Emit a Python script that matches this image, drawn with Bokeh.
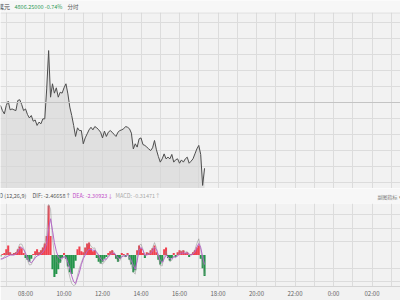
from bokeh.plotting import figure
from bokeh.layouts import column
from bokeh.models import Range1d, FixedTicker, Span
from bokeh.core.properties import value
from bokeh.embed import file_html
from bokeh.resources import INLINE

# ---------------- data ----------------
times = [
    "06:42", "06:48", "06:54", "07:00", "07:06", "07:12", "07:18", "07:24", "07:30", "07:36", "07:42", "07:48", "07:54",
    "08:00", "08:06", "08:12", "08:18", "08:24", "08:30", "08:36", "08:42", "08:48", "08:54",
    "09:00", "09:06", "09:12", "09:18", "09:24", "09:30", "09:36", "09:42", "09:48", "09:54",
    "10:00", "10:06", "10:12", "10:18", "10:24", "10:30", "10:36", "10:42", "10:48", "10:54",
    "11:00", "11:06", "11:12", "11:18", "11:24", "11:30", "11:36", "11:42", "11:48", "11:54",
    "12:00", "12:06", "12:12", "12:18", "12:24", "12:30", "12:36", "12:42", "12:48", "12:54",
    "13:00", "13:06", "13:12", "13:18", "13:24", "13:30", "13:36", "13:42", "13:48", "13:54",
    "14:00", "14:06", "14:12", "14:18", "14:24", "14:30", "14:36", "14:42", "14:48", "14:54",
    "15:00", "15:06", "15:12", "15:18", "15:24", "15:30", "15:36", "15:42", "15:48", "15:54",
    "16:00", "16:06", "16:12", "16:18", "16:24", "16:30", "16:36", "16:42", "16:48", "16:54",
    "17:00", "17:06", "17:12", "17:18",
]
price = [
    4840.5, 4837.7, 4835.9, 4840.5, 4842.8, 4838.1, 4838.6, 4838.1, 4837.7, 4843.2, 4843.6, 4841.0, 4837.7,
    4838.6, 4835.6, 4833.7, 4835.0, 4831.9, 4832.6, 4829.6, 4831.4, 4830.5, 4833.2,
    4833.2, 4849.5, 4870.4, 4845.0, 4852.3, 4847.2, 4850.1, 4845.0, 4847.7, 4847.2,
    4850.1, 4852.3, 4846.8, 4839.6, 4835.0, 4829.6, 4823.6, 4828.3, 4826.8, 4826.8,
    4819.6, 4822.8, 4825.0, 4827.2, 4828.6, 4827.2, 4829.0, 4828.3, 4827.2, 4825.9,
    4822.8, 4826.5, 4823.6, 4825.9, 4826.8, 4825.9, 4824.7, 4823.6, 4825.9, 4826.8,
    4827.2, 4827.8, 4829.0, 4828.6, 4827.8, 4825.4, 4816.8, 4819.6, 4817.8, 4822.3,
    4822.8, 4819.2, 4818.7, 4817.8, 4816.8, 4815.9, 4817.4, 4821.4, 4816.3, 4812.7,
    4809.6, 4811.4, 4814.1, 4811.4, 4812.3, 4811.4, 4813.8, 4809.6, 4810.9, 4811.4,
    4809.0, 4810.8, 4809.6, 4811.4, 4812.3, 4809.0, 4810.1, 4811.4, 4814.1, 4816.8,
    4818.7, 4813.8, 4796.9, 4806.25,
]
macd_hist = [
    -0.15, 0.1, 0.2, 0.6, 1.0, 0.3, 0.1, 0.2, 0.3, 0.6, 0.9, 0.7, 0.2,
    -0.3, -0.5, -0.7, -0.4, 0.1, 0.4, 0.6, 0.3, 0.5, 0.8,
    1.2, 2.0, 5.2, 2.0, -1.5, -2.3, -2.0, -1.5, -0.8, -0.3,
    0.2, -0.4, -1.2, -1.8, -2.0, -1.4, -0.6, 0.6, 0.9, 0.4,
    0.3, 0.8, 1.2, 1.3, 0.7, 0.4, 0.5, -0.3, -0.7, -0.9,
    -0.7, -0.4, -0.2, 0.2, 0.4, 0.5, 0.2, -0.4, -0.7, -0.4,
    0.2, 0.1, -0.2, 0.2, -0.5, -1.0, -1.8, -1.6, 0.5, 1.0,
    0.7, 0.2, -0.3, 0.3, 0.2, 0.5, 0.7, 1.0, 0.3, -0.5,
    -1.0, -0.7, 0.6, 0.8, -0.3, -0.6, -0.3, 0.2, -0.2, 0.3,
    0.5, 0.4, 0.5, 0.2, 0.3, -0.2, 0.1, 0.3, 0.5, 0.8,
    1.0, -0.4, -1.4, -2.2,
]
dea = [
    -0.4, -0.4, -0.3, -0.2, -0.1, 0.0, 0.0, 0.0, 0.1, 0.3, 0.7, 0.8, 0.6,
    0.2, -0.3, -0.7, -0.8, -0.6, -0.3, -0.1, 0.0, 0.1, 0.3,
    0.6, 1.2, 2.8, 3.8, 2.6, 1.3, 0.4, -0.2, -0.4, -0.3,
    -0.2, -0.2, -0.8, -1.4, -2.2, -2.8, -3.0, -2.4, -1.8, -1.0,
    -0.4, 0.0, 0.4, 0.6, 0.6, 0.5, 0.5, 0.3, 0.0, -0.4,
    -0.6, -0.5, -0.4, -0.2, 0.0, 0.2, 0.2, 0.0, -0.3, -0.4,
    -0.2, -0.1, -0.1, 0.0, -0.2, -0.6, -1.1, -1.5, -0.6, 0.5,
    0.8, 0.5, 0.0, 0.0, 0.1, 0.2, 0.4, 0.8, 0.6, 0.0,
    -0.6, -0.8, -0.4, 0.0, -0.2, -0.4, -0.4, -0.2, -0.2, -0.1,
    0.1, 0.2, 0.2, 0.2, 0.2, 0.1, 0.0, 0.1, 0.3, 0.8,
    1.2, 0.8, -0.2, -1.0,
]
dif = [
    -0.5, -0.35, -0.2, 0.1, 0.4, 0.15, 0.05, 0.1, 0.25, 0.6, 1.15, 1.15, 0.7,
    0.05, -0.55, -1.05, -1.0, -0.55, -0.1, 0.2, 0.15, 0.35, 0.7,
    1.2, 2.2, 5.3, 4.8, 1.8, 0.1, -0.6, -0.95, -0.8, -0.45,
    -0.1, -0.4, -1.4, -2.3, -3.0, -3.2, -3.1, -2.1, -1.35, -0.8,
    -0.25, 0.4, 1.0, 1.25, 0.95, 0.7, 0.75, 0.15, -0.35, -0.85,
    -0.95, -0.7, -0.5, -0.1, 0.2, 0.45, 0.3, -0.2, -0.65, -0.6,
    -0.1, -0.05, -0.2, 0.1, -0.45, -1.1, -1.8, -2.0, -0.35, 1.0,
    1.15, 0.6, -0.15, 0.15, 0.2, 0.45, 0.75, 1.3, 0.75, -0.25,
    -1.1, -1.15, -0.1, 0.4, -0.35, -0.7, -0.55, -0.1, -0.3, 0.05,
    0.35, 0.4, 0.45, 0.3, 0.35, 0.0, 0.05, 0.25, 0.55, 1.2,
    1.7, 0.6, -0.9, -2.1,
]
prev_close = 4842.10
tick_hours = [7, 8, 9, 10, 11, 12, 13, 14, 15, 16, 17, 18, 19, 20, 21, 22, 23, 24, 25, 26, 27]
tick_labels = ["", "08:00", "", "10:00", "", "12:00", "", "14:00", "", "16:00", "", "18:00", "",
               "20:00", "", "22:00", "", "0:00", "", "02:00", ""]

# ---------------- helpers / styles ----------------
def to_hours(s):
    hh, mm = s.split(":")
    return int(hh) + int(mm) / 60.0

x = [to_hours(t) for t in times]

W = 400
X0 = 6.70
PX_PER_H = 19.25
X1 = X0 + W / PX_PER_H
FONT = value("Noto Sans CJK SC")
BG = "#f2f2f2"
BAND = "#f7f7f7"
GRID = "#dcdcdc"

def base_fig(h, xr, yr):
    f = figure(width=W, height=h, x_range=xr, y_range=yr, output_backend="svg",
               toolbar_location=None, min_border=0)
    f.background_fill_color = BG
    f.border_fill_color = BG
    f.outline_line_color = None
    return f

def band_fig(h):
    f = figure(width=W, height=h, x_range=Range1d(0, W), y_range=Range1d(0, h),
               output_backend="svg", toolbar_location=None, min_border=0)
    f.axis.visible = False
    f.grid.visible = False
    f.outline_line_color = None
    f.background_fill_color = BAND
    f.border_fill_color = BAND
    return f

def put(f, xpos, ypos, txt, color, size="5.5px"):
    f.text(x=[xpos], y=[ypos], text=[txt], text_font=FONT, text_font_size=size,
           text_color=color, text_align="left", text_baseline="middle")

xr = Range1d(X0, X1)

# ---------------- header band ----------------
hdr = band_fig(12)
put(hdr, -2.5, 6, "萬元", "#444444", "6px")
put(hdr, 14, 6, "4806.25000 -0.74%", "#2f9a55")
put(hdr, 67, 6, "分时", "#555555")

# ---------------- main price panel ----------------
y_top = prev_close + 90 * 0.545
y_bot = prev_close - 86 * 0.545
p = base_fig(176, xr, Range1d(y_bot, y_top))
p.axis.visible = False
p.xgrid.ticker = FixedTicker(ticks=tick_hours)
p.ygrid.ticker = FixedTicker(ticks=[prev_close + k * 16 * 0.545 for k in range(-6, 6)])
p.grid.grid_line_color = GRID
p.grid.grid_line_width = 1
p.add_layout(Span(location=prev_close, dimension="width", line_color="#c4c4c4", line_width=1))
p.add_layout(Span(location=y_top - 0.2, dimension="width", line_color="#d6d6d6", line_width=1))
p.varea(x=x, y1=[y_bot] * len(x), y2=price, fill_color="#d6d6d6", fill_alpha=0.65)
p.line(x=x, y=price, line_color="#4d4d4d", line_width=1)

# ---------------- MACD header band ----------------
mh = band_fig(15)
put(mh, -12.5, 7.5, "MACD (12,26,9)", "#555555")
put(mh, 32, 7.5, "DIF: -2.46658↑", "#555555")
put(mh, 72, 7.5, "DEA: -2.30923↓", "#c24fc8")
put(mh, 115, 7.5, "MACD: -0.31471↑", "#aaaaaa")
put(mh, 377, 7.5, "副图指标 ▾", "#777777", "5px")

# ---------------- MACD panel ----------------
m = base_fig(97, xr, Range1d(-3.3, 5.4))
m.yaxis.visible = False
m.xaxis.ticker = FixedTicker(ticks=tick_hours)
m.xaxis.major_label_overrides = {h: lab for h, lab in zip(tick_hours, tick_labels)}
m.xaxis.major_label_text_font = "Noto Sans CJK SC"
m.xaxis.major_label_text_font_size = "6px"
m.xaxis.major_label_text_color = "#666666"
m.xaxis.major_label_standoff = 2
m.xaxis.major_tick_out = 0
m.xaxis.major_tick_in = 0
m.xaxis.minor_tick_out = 0
m.xaxis.minor_tick_in = 0
m.xaxis.axis_line_color = "#d4d4d4"
m.xgrid.ticker = FixedTicker(ticks=tick_hours)
m.ygrid.ticker = FixedTicker(ticks=[-2.8, -1.4, 1.4, 2.8, 4.2])
m.grid.grid_line_color = GRID
bar_colors = ["#f0414f" if v >= 0 else "#23944a" for v in macd_hist]
m.vbar(x=x, top=macd_hist, bottom=0, width=6.4 / 60, fill_color=bar_colors, line_color=None)
m.line(x=x, y=dif, line_color="#8a8a8a", line_width=0.5)
m.line(x=x, y=dea, line_color="#b567c9", line_width=1)

layout = column(hdr, p, mh, m, spacing=0)
open("out.html", "w").write(file_html(layout, INLINE))
